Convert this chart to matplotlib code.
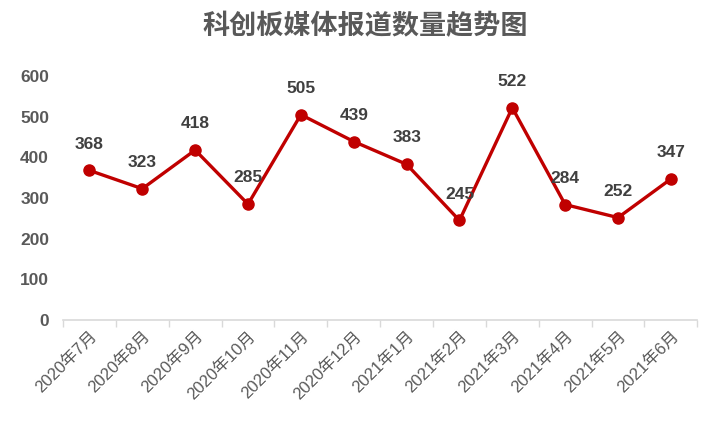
import matplotlib
matplotlib.use("Agg")
import matplotlib.pyplot as plt

# data
months = ["2020年7月", "2020年8月", "2020年9月", "2020年10月", "2020年11月", "2020年12月",
          "2021年1月", "2021年2月", "2021年3月", "2021年4月", "2021年5月", "2021年6月"]
counts = [368, 323, 418, 285, 505, 439, 383, 245, 522, 284, 252, 347]
title = "科创板媒体报道数量趋势图"

fam = ["Liberation Sans", "Noto Sans CJK SC", "DejaVu Sans"]
plt.rcParams["font.family"] = fam

fig = plt.figure(figsize=(7.2, 4.32), dpi=100)
ax = fig.add_axes([0.0875, 0.259, 0.881, 0.565])

x = list(range(len(months)))
ax.plot(x, counts, color="#C00000", linewidth=2.4, marker="o", markersize=8)

for xi, v in zip(x, counts):
    ax.annotate(str(v), (xi, v), xytext=(0, 19), textcoords="offset points",
                ha="center", va="center", fontsize=12.5, fontweight="bold", color="#404040")

ax.set_xlim(-0.5, len(months) - 0.5)
ax.set_ylim(0, 600)
ax.set_yticks(range(0, 601, 100))
ax.tick_params(axis="y", length=0, labelsize=12.5, labelcolor="#595959", pad=10)
for lab in ax.get_yticklabels():
    lab.set_fontweight("bold")

ax.set_xticks(x)
ax.set_xticklabels(months, rotation=45, ha="right", va="top", rotation_mode="anchor",
                   fontsize=12, color="#595959")
ax.tick_params(axis="x", which="major", length=0, pad=6)
ax.set_xticks([i - 0.5 for i in range(len(months) + 1)], minor=True)
ax.tick_params(axis="x", which="minor", length=5, width=1, color="#D9D9D9")

for s in ["left", "right", "top"]:
    ax.spines[s].set_visible(False)
ax.spines["bottom"].set_color("#D9D9D9")
ax.spines["bottom"].set_linewidth(1.2)

fig.text(0.507, 0.94, title, ha="center", va="center", fontsize=19.5, fontweight="bold",
         color="#595959", family=["Noto Sans CJK SC"])

fig.savefig("out.png", dpi=100)
